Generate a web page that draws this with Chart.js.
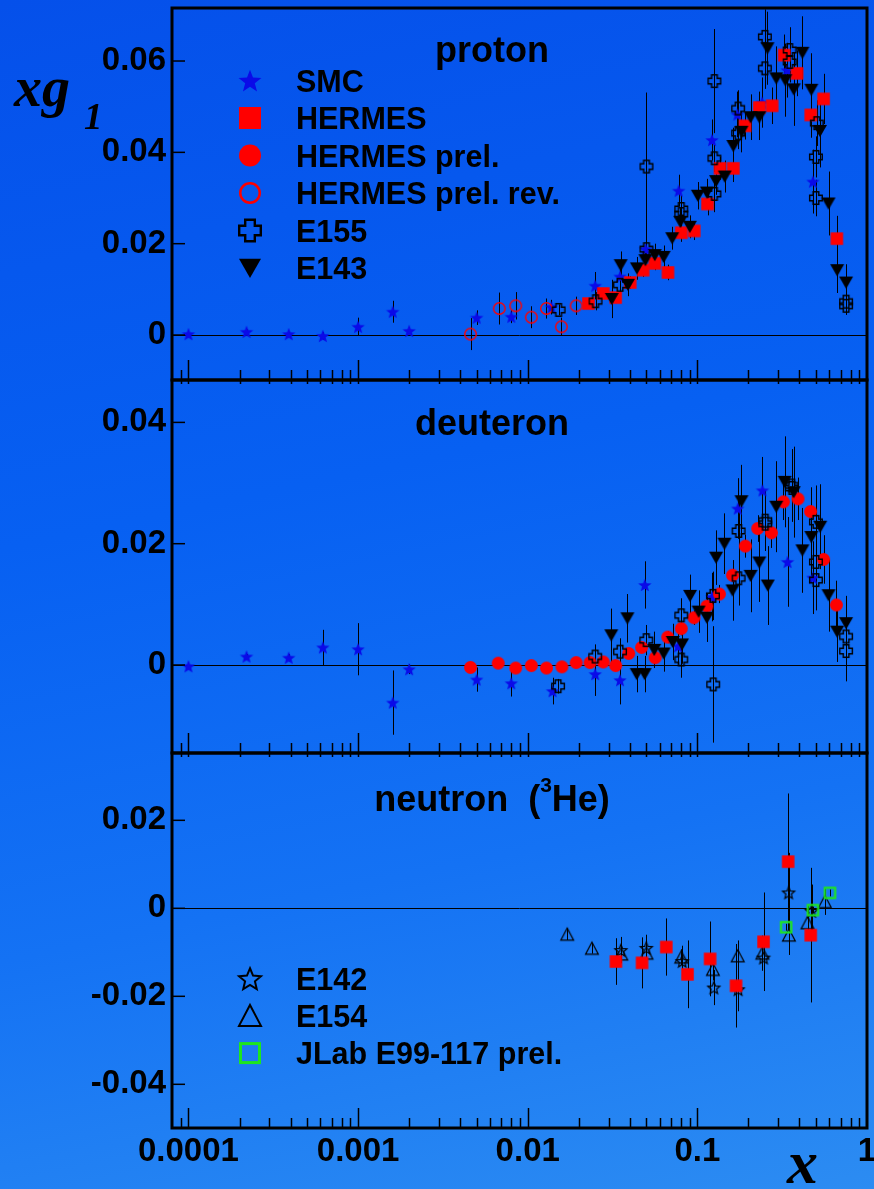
<!DOCTYPE html>
<html><head><meta charset="utf-8">
<script src="https://cdn.jsdelivr.net/npm/chart.js@4.4.1/dist/chart.umd.min.js"></script>
<style>
html,body{margin:0;padding:0;}
body{width:874px;height:1189px;overflow:hidden;position:relative;
background:linear-gradient(168deg,#0550ea 0%,#0760f2 40%,#1472f4 70%,#2c8cf2 100%);}
canvas{position:absolute;left:0;}
</style></head><body>
<canvas id="p1" width="874" height="400" style="top:0px"></canvas>
<canvas id="p2" width="874" height="400" style="top:370px"></canvas>
<canvas id="p3" width="874" height="449" style="top:740px"></canvas>
<script>
// ---------------- DATA ----------------
const X_TICK_VALUES = [0.0001, 0.001, 0.01, 0.1, 1];
const X_TICK_LABELS = ['0.0001', '0.001', '0.01', '0.1', '1'];
const P_Y_TICKS = [0, 0.02, 0.04, 0.06];
const P_Y_LABELS = ['0', '0.02', '0.04', '0.06'];
const D_Y_TICKS = [0, 0.02, 0.04];
const D_Y_LABELS = ['0', '0.02', '0.04'];
const N_Y_TICKS = [-0.04, -0.02, 0, 0.02];
const N_Y_LABELS = ['-0.04', '-0.02', '0', '0.02'];

// each point: [x, xg1, error]
// ---- proton ----
const P_SMC = [[1.0e-4,0.0002,0.0004],[2.2e-4,0.0007,0.0005],[3.9e-4,0.0002,0.0005],[6.2e-4,-0.0002,0.0008],
 [1.0e-3,0.0018,0.0020],[1.6e-3,0.0051,0.0024],[2.0e-3,0.0009,0.0006],[5.0e-3,0.0038,0.0016],[8.0e-3,0.0040,0.0014],
 [0.0138,0.0061,0.0016],[0.025,0.0108,0.0030],[0.035,0.0128,0.0028],[0.0495,0.0188,0.0030],[0.0776,0.0316,0.0035],
 [0.122,0.0427,0.0045],[0.172,0.0483,0.0050],[0.241,0.0509,0.0055],[0.338,0.0580,0.0060],[0.48,0.0336,0.0070]];
const P_HERMES = [[0.0228,0.0069,0.0010],[0.0279,0.0091,0.0012],[0.0330,0.0082,0.0012],[0.0402,0.0115,0.0014],
 [0.0479,0.0142,0.0015],[0.0561,0.0157,0.0015],[0.0671,0.0137,0.0017],[0.0804,0.0224,0.0020],[0.0958,0.0228,0.0020],
 [0.1148,0.0287,0.0025],[0.136,0.0365,0.0025],[0.163,0.0365,0.0030],[0.191,0.0458,0.0030],[0.232,0.0498,0.0035],
 [0.276,0.0502,0.0040],[0.325,0.0613,0.0045],[0.387,0.0573,0.0050],[0.466,0.0482,0.0050],[0.555,0.0517,0.0055],
 [0.664,0.0211,0.0050]];
const P_HERMES_REV = [[0.0046,0.0002,0.0035],[0.0068,0.0058,0.0035],[0.0085,0.0064,0.0030],[0.0105,0.0039,0.0024],
 [0.0129,0.0058,0.0022],[0.0158,0.0018,0.0020],[0.0193,0.0064,0.0020]];
const P_E155 = [[0.0152,0.0055,0.0012],[0.0251,0.0074,0.0020],[0.035,0.0110,0.0020],[0.0501,0.0369,0.0162],
 [0.0501,0.0188,0.0025],[0.0804,0.0276,0.0030],[0.0804,0.0265,0.0025],[0.126,0.0309,0.0040],[0.126,0.0387,0.0030],
 [0.126,0.0556,0.0114],[0.174,0.0496,0.0040],[0.174,0.0442,0.0035],[0.250,0.0653,0.0060],[0.250,0.0584,0.0045],
 [0.350,0.0624,0.0050],[0.350,0.0598,0.0045],[0.506,0.0464,0.0050],[0.50,0.0390,0.0045],[0.50,0.0300,0.0040],
 [0.753,0.0073,0.0025],[0.753,0.0064,0.0020]];
const P_E143 = [[0.0313,0.0079,0.0042],[0.0353,0.0153,0.0030],[0.039,0.0110,0.0025],[0.044,0.0146,0.0025],
 [0.0494,0.0164,0.0025],[0.0561,0.0175,0.0025],[0.0633,0.0171,0.0025],[0.0711,0.0212,0.0025],[0.0793,0.0248,0.0030],
 [0.0903,0.0237,0.0025],[0.1007,0.0305,0.0030],[0.1137,0.0312,0.0030],[0.129,0.0337,0.0030],[0.145,0.0347,0.0035],
 [0.163,0.0414,0.0040],[0.182,0.0445,0.0045],[0.206,0.0477,0.0050],[0.232,0.0477,0.0050],[0.259,0.0628,0.0080],
 [0.292,0.0562,0.0070],[0.330,0.0558,0.0080],[0.370,0.0538,0.0080],[0.416,0.0618,0.0080],[0.470,0.0537,0.0080],
 [0.528,0.0447,0.0080],[0.593,0.0288,0.0070],[0.667,0.0142,0.0050],[0.753,0.0115,0.0040]];
// ---- deuteron ----
const D_SMC = [[1.0e-4,-0.0002,0.0004],[2.2e-4,0.0014,0.0004],[3.9e-4,0.0012,0.0006],[6.2e-4,0.0029,0.0029],
 [1.0e-3,0.0026,0.0043],[1.6e-3,-0.0062,0.0053],[2.0e-3,-0.0007,0.0008],[5.0e-3,-0.0024,0.0020],[8.0e-3,-0.0030,0.0022],
 [0.014,-0.0043,0.0022],[0.025,-0.0015,0.0036],[0.035,-0.0025,0.0040],[0.049,0.0132,0.0039],[0.077,0.0031,0.0030],
 [0.122,0.0112,0.0040],[0.173,0.0258,0.0050],[0.242,0.0288,0.0055],[0.34,0.0170,0.0074],[0.48,0.0144,0.0060]];
const D_HERMES_PREL = [[0.0046,-0.0004,0.0007],[0.0067,0.0003,0.0007],[0.0085,-0.0005,0.0007],[0.0105,-0.0001,0.0006],
 [0.0129,-0.0005,0.0006],[0.0159,-0.0003,0.0006],[0.0193,0.0004,0.0006],[0.0233,0.0004,0.0006],[0.0279,0.0005,0.0007],
 [0.033,-0.0001,0.0007],[0.0394,0.0019,0.0008],[0.0469,0.0029,0.0008],[0.0564,0.0012,0.0009],[0.0669,0.0046,0.0010],
 [0.0804,0.0060,0.0011],[0.0955,0.0078,0.0012],[0.1137,0.0097,0.0013],[0.1349,0.0117,0.0015],[0.1612,0.0148,0.0017],
 [0.1918,0.0196,0.0019],[0.2269,0.0225,0.0022],[0.2735,0.0218,0.0025],[0.3216,0.0269,0.0030],[0.392,0.0274,0.0035],
 [0.465,0.0253,0.0040],[0.555,0.0174,0.0040],[0.660,0.0099,0.0040]];
const D_E155 = [[0.0151,-0.0035,0.0012],[0.025,0.0014,0.0020],[0.035,0.0022,0.0022],[0.050,0.0041,0.0025],
 [0.0804,0.0082,0.0028],[0.0804,0.0009,0.0030],[0.1235,0.0114,0.0040],[0.124,-0.0032,0.0096],[0.175,0.0221,0.0050],
 [0.175,0.0143,0.0045],[0.2515,0.0238,0.0050],[0.2515,0.0233,0.0045],[0.36,0.0296,0.0060],[0.36,0.0292,0.0050],
 [0.50,0.0236,0.0060],[0.50,0.0170,0.0055],[0.50,0.0140,0.0050],[0.753,0.0047,0.0035],[0.753,0.0023,0.0050]];
const D_E143 = [[0.0311,0.0049,0.0044],[0.0387,0.0077,0.0040],[0.0439,-0.0015,0.0030],[0.0489,-0.0015,0.0030],
 [0.0557,0.0025,0.0030],[0.0633,0.0019,0.0030],[0.0716,0.0038,0.0030],[0.0812,0.0034,0.0032],[0.0906,0.0114,0.0035],
 [0.1017,0.0088,0.0035],[0.1137,0.0078,0.0040],[0.129,0.0177,0.0045],[0.1445,0.0200,0.0050],[0.1612,0.0123,0.0050],
 [0.182,0.0270,0.0060],[0.206,0.0147,0.0060],[0.232,0.0169,0.0065],[0.260,0.0131,0.0065],[0.292,0.0261,0.0075],
 [0.327,0.0302,0.0075],[0.370,0.0285,0.0075],[0.416,0.0189,0.0070],[0.470,0.0211,0.0075],[0.530,0.0228,0.0070],
 [0.593,0.0115,0.0060],[0.667,0.0055,0.0050],[0.753,0.0069,0.0045]];
// ---- neutron (3He) ----
const N_HERMES = [[0.0331,-0.0121,0.0053],[0.0472,-0.0124,0.0058],[0.0656,-0.0088,0.0065],[0.0875,-0.0150,0.0077],
 [0.1189,-0.0115,0.0085],[0.169,-0.0176,0.0095],[0.2456,-0.0076,0.0112],[0.343,0.0106,0.0155],[0.466,-0.0061,0.0153]];
const N_E142 = [[0.0354,-0.0095,0.0030],[0.050,-0.0090,0.0030],[0.0814,-0.0120,0.0035],[0.125,-0.0180,0.0040],
 [0.174,-0.0184,0.0050],[0.2455,-0.0112,0.0060],[0.345,0.0036,0.0090],[0.471,-0.0006,0.0060]];
const N_E154 = [[0.0171,-0.0059,0.0013],[0.0239,-0.0091,0.0012],[0.0356,-0.0104,0.0015],[0.0501,-0.0102,0.0015],
 [0.0804,-0.0111,0.0018],[0.1235,-0.0139,0.0025],[0.173,-0.0108,0.0035],[0.2417,-0.0102,0.0040],
 [0.3466,-0.0061,0.0045],[0.446,-0.0033,0.0040],[0.5645,0.0015,0.0030]];
const N_JLAB = [[0.3335,-0.0043,0.0008],[0.48,-0.0004,0.0008],[0.605,0.0035,0.0008]];

// ---------------- STYLE ----------------
const BLUE = '#0a0ae8', RED = '#ff0000', GREEN = '#1ee61e';
const SANS = '"Liberation Sans", Arial, Helvetica, sans-serif';
const SERIF = '"Liberation Serif", "Times New Roman", serif';
const X_MIN = 8.0e-5, X_MAX = 1.0;

function starPath(ctx, x, y, R, r) {
  ctx.beginPath();
  for (let i = 0; i < 10; i++) {
    const a = -Math.PI / 2 + i * Math.PI / 5, rr = i % 2 === 0 ? R : r;
    const px = x + rr * Math.cos(a), py = y + rr * Math.sin(a);
    if (i === 0) ctx.moveTo(px, py); else ctx.lineTo(px, py);
  }
  ctx.closePath();
}
function drawMarker(ctx, kind, x, y, s, lw) {
  const h = s / 2;
  ctx.save();
  ctx.lineJoin = 'miter';
  ctx.lineWidth = lw || 1.3;
  switch (kind) {
    case 'smc': starPath(ctx, x, y + s * 0.05, h, h * 0.42); ctx.fillStyle = BLUE; ctx.fill(); break;
    case 'e142': starPath(ctx, x, y + s * 0.05, h - ctx.lineWidth / 2, (h - ctx.lineWidth / 2) * 0.45);
      ctx.strokeStyle = '#000'; ctx.stroke(); break;
    case 'hermes': ctx.fillStyle = RED; ctx.fillRect(x - h, y - h, s, s); break;
    case 'hprel': ctx.beginPath(); ctx.arc(x, y, h, 0, 2 * Math.PI); ctx.fillStyle = RED; ctx.fill(); break;
    case 'hrev': ctx.beginPath(); ctx.arc(x, y, h - ctx.lineWidth / 2, 0, 2 * Math.PI); ctx.strokeStyle = RED; ctx.stroke(); break;
    case 'e155': {
      const a = s / 5, H = h - ctx.lineWidth / 2;
      const pts = [[-a,-H],[a,-H],[a,-a],[H,-a],[H,a],[a,a],[a,H],[-a,H],[-a,a],[-H,a],[-H,-a],[-a,-a]];
      ctx.beginPath();
      pts.forEach((p, i) => i ? ctx.lineTo(x + p[0], y + p[1]) : ctx.moveTo(x + p[0], y + p[1]));
      ctx.closePath(); ctx.strokeStyle = '#000'; ctx.stroke(); break;
    }
    case 'e143':
      ctx.beginPath(); ctx.moveTo(x - h, y - s * 0.42); ctx.lineTo(x + h, y - s * 0.42); ctx.lineTo(x, y + s * 0.45);
      ctx.closePath(); ctx.fillStyle = '#000'; ctx.fill(); break;
    case 'e154': {
      const H = h - ctx.lineWidth / 2;
      ctx.beginPath(); ctx.moveTo(x, y - s * 0.45); ctx.lineTo(x + H, y + s * 0.42); ctx.lineTo(x - H, y + s * 0.42);
      ctx.closePath(); ctx.strokeStyle = '#000'; ctx.stroke(); break;
    }
    case 'jlab': {
      const H = h - ctx.lineWidth / 2;
      ctx.strokeStyle = GREEN; ctx.strokeRect(x - H, y - H, 2 * H, 2 * H); break;
    }
  }
  ctx.restore();
}
function markerImage(kind, s, lw) {
  const c = document.createElement('canvas');
  c.width = c.height = Math.ceil(s) + 6;
  drawMarker(c.getContext('2d'), kind, c.width / 2, c.height / 2, s, lw);
  return c;
}
const DATA_MARK = {
  smc: markerImage('smc', 14), hermes: markerImage('hermes', 12.5), hprel: markerImage('hprel', 13),
  hrev: markerImage('hrev', 13, 1.4), e155: markerImage('e155', 14, 1.4), e143: markerImage('e143', 14),
  e142: markerImage('e142', 14, 1.2), e154: markerImage('e154', 14, 1.2), jlab: markerImage('jlab', 12.5, 2.2)
};

function ds(kind, pts) {
  return {
    data: pts.map(p => ({ x: p[0], y: p[1] })), errs: pts.map(p => p[2]),
    pointStyle: DATA_MARK[kind], pointRadius: 6, showLine: false, clip: 0
  };
}

const panels = [
  { id: 'p1', top: 0, padTop: 8, padBottom: 20, ymin: -0.00985, ymax: 0.07161, yt: P_Y_TICKS, yl: P_Y_LABELS, showX: false,
    datasets: [ds('e143', P_E143), ds('e155', P_E155), ds('hermes', P_HERMES), ds('hrev', P_HERMES_REV), ds('smc', P_SMC)],
    topTicks: false },
  { id: 'p2', top: 370, padTop: 10, padBottom: 17, ymin: -0.01451, ymax: 0.04699, yt: D_Y_TICKS, yl: D_Y_LABELS, showX: false,
    datasets: [ds('e143', D_E143), ds('e155', D_E155), ds('hprel', D_HERMES_PREL), ds('smc', D_SMC)], topTicks: true },
  { id: 'p3', top: 740, padTop: 13, padBottom: 0, ymin: -0.04993, ymax: 0.03530, yt: N_Y_TICKS, yl: N_Y_LABELS, showX: true,
    datasets: [ds('jlab', N_JLAB), ds('hermes', N_HERMES), ds('e142', N_E142), ds('e154', N_E154)], topTicks: true }
];

// decorations (absolute page coordinates, translated per canvas)
function decorate(ctx, idx) {
  ctx.fillStyle = '#000';
  ctx.textBaseline = 'alphabetic';
  ctx.textAlign = 'left';
  const legendFont = 'bold 30.5px ' + SANS;
  if (idx === 0) {
    ctx.font = 'bold 36px ' + SANS; ctx.textAlign = 'center';
    ctx.fillText('proton', 492, 62);
    ctx.textAlign = 'left';
    const L = [['smc','SMC',24,0],['hermes','HERMES',22,0],['hprel','HERMES prel.',22,0],
               ['hrev','HERMES prel. rev.',22,2.5],['e155','E155',24,2.4],['e143','E143',22,0]];
    L.forEach((e, i) => {
      const base = 91.5 + i * 37.5;
      drawMarker(ctx, e[0], 250, base - 11, e[2], e[3]);
      ctx.font = legendFont; ctx.fillText(e[1], 296, base);
    });
    // y axis title xg1
    ctx.font = 'bold italic 56px ' + SERIF;
    ctx.fillText('xg', 14, 106);
    ctx.font = 'bold italic 37px ' + SERIF;
    ctx.fillText('1', 84, 129);
  } else if (idx === 1) {
    ctx.font = 'bold 36px ' + SANS; ctx.textAlign = 'center';
    ctx.fillText('deuteron', 492, 435);
  } else {
    // neutron (3He) title with superscript
    const big = 'bold 36px ' + SANS, small = 'bold 21px ' + SANS;
    const t1 = 'neutron  (', t2 = '3', t3 = 'He)';
    ctx.font = big; const w1 = ctx.measureText(t1).width, w3 = ctx.measureText(t3).width;
    ctx.font = small; const w2 = ctx.measureText(t2).width;
    let x0 = 492 - (w1 + w2 + w3) / 2;
    ctx.font = big; ctx.fillText(t1, x0, 811);
    ctx.font = small; ctx.fillText(t2, x0 + w1, 792);
    ctx.font = big; ctx.fillText(t3, x0 + w1 + w2, 811);
    const L = [['e142','E142',25,2],['e154','E154',24,2],['jlab','JLab E99-117 prel.',22,3]];
    L.forEach((e, i) => {
      const base = 989.5 + i * 37.3;
      drawMarker(ctx, e[0], 250, base - 11, e[2], e[3]);
      ctx.font = legendFont; ctx.fillText(e[1], 296, base);
    });
    ctx.font = 'bold italic 62px ' + SERIF;
    ctx.fillText('x', 787, 1183);
  }
}

function minorValues() {
  const out = [];
  for (let d = -5; d <= 0; d++) for (let m = 1; m <= 9; m++) {
    const v = m * Math.pow(10, d);
    if (v >= X_MIN * 1.0001 && v <= X_MAX * 0.9999) out.push([v, m === 1]);
  }
  return out;
}

panels.forEach((P, idx) => {
  const framePlugin = {
    id: 'frame' + idx,
    beforeDatasetsDraw(chart) {
      const { ctx, chartArea: a, scales } = chart;
      const xs = scales.x, ys = scales.y;
      ctx.save();
      ctx.beginPath(); ctx.rect(a.left, a.top, a.right - a.left, a.bottom - a.top); ctx.clip();
      // zero line
      const y0 = Math.round(ys.getPixelForValue(0)) + 0.5;
      ctx.strokeStyle = '#000'; ctx.lineWidth = 1;
      ctx.beginPath(); ctx.moveTo(a.left, y0); ctx.lineTo(a.right, y0); ctx.stroke();
      // error bars
      chart.data.datasets.forEach(d => {
        d.data.forEach((p, j) => {
          const e = d.errs[j]; if (!e) return;
          const px = Math.round(xs.getPixelForValue(p.x)) + 0.5;
          ctx.beginPath();
          ctx.moveTo(px, ys.getPixelForValue(p.y - e));
          ctx.lineTo(px, ys.getPixelForValue(p.y + e));
          ctx.stroke();
        });
      });
      ctx.restore();
    },
    afterDraw(chart) {
      const { ctx, chartArea: a, scales } = chart;
      const xs = scales.x, ys = scales.y;
      ctx.save();
      ctx.strokeStyle = '#000';
      // ticks
      ctx.lineWidth = 1.5;
      P.yt.forEach(v => {
        const y = ys.getPixelForValue(v);
        ctx.beginPath(); ctx.moveTo(a.left, y); ctx.lineTo(a.left + 13, y); ctx.stroke();
      });
      minorValues().forEach(([v, major]) => {
        const x = Math.round(xs.getPixelForValue(v)) + 0.5;
        ctx.beginPath(); ctx.moveTo(x, a.bottom); ctx.lineTo(x, a.bottom - (major ? 20 : 10)); ctx.stroke();
        if (P.topTicks) { ctx.beginPath(); ctx.moveTo(x, a.top); ctx.lineTo(x, a.top + 4); ctx.stroke(); }
      });
      // frame
      ctx.lineWidth = 3;
      ctx.strokeRect(a.left, a.top, a.right - a.left, a.bottom - a.top);
      // texts
      ctx.translate(0, -P.top);
      decorate(ctx, idx);
      ctx.restore();
    }
  };

  new Chart(document.getElementById(P.id), {
    type: 'scatter',
    data: { datasets: P.datasets },
    options: {
      responsive: false, animation: false, events: [],
      layout: { padding: { left: 0, right: 4, top: P.padTop, bottom: P.padBottom } },
      plugins: { legend: { display: false }, tooltip: { enabled: false } },
      scales: {
        x: {
          type: 'logarithmic', min: X_MIN, max: X_MAX, display: P.showX,
          grid: { display: false, drawTicks: false }, border: { display: false },
          afterBuildTicks: s => { s.ticks = X_TICK_VALUES.map(v => ({ value: v })); },
          afterFit: s => { s.height = P.showX ? 61 : 0; s.paddingLeft = 0; s.paddingRight = 0; },
          ticks: { color: '#000', font: { family: SANS, weight: 'bold', size: 33 }, padding: 4,
                   maxRotation: 0, autoSkip: false, callback: (v, i) => X_TICK_LABELS[i] }
        },
        y: {
          min: P.ymin, max: P.ymax,
          grid: { display: false, drawTicks: false }, border: { display: false },
          afterBuildTicks: s => { s.ticks = P.yt.map(v => ({ value: v })); },
          afterFit: s => { s.width = 172; s.paddingTop = 0; s.paddingBottom = 0; },
          ticks: { color: '#000', font: { family: SANS, weight: 'bold', size: 33 }, padding: 6,
                   autoSkip: false, callback: (v, i) => P.yl[i] }
        }
      }
    },
    plugins: [framePlugin]
  });
});
</script>
</body></html>
